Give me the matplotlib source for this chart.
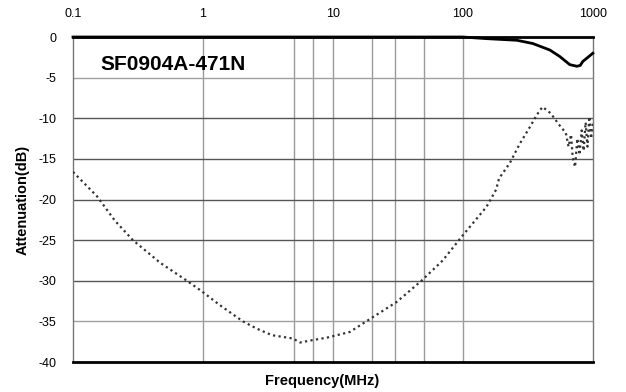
import matplotlib
matplotlib.use("Agg")
import matplotlib.pyplot as plt
from matplotlib.ticker import FixedLocator, NullLocator

plt.rcParams['font.family'] = ['Liberation Sans', 'DejaVu Sans']

# Insertion loss (solid line)
solid_freq = [0.1, 1, 10, 100, 152, 260, 345, 467, 557, 665, 753, 800, 838, 900, 1000]
solid_db = [0.0, 0.0, 0.0, 0.0, -0.2, -0.4, -0.8, -1.6, -2.4, -3.4, -3.6, -3.5, -3.0, -2.6, -2.0]

# Attenuation (dotted line)
dot_freq = [0.1, 0.153, 0.21, 0.289, 0.47, 0.753, 0.98, 1.35, 2.03, 2.6, 3.4, 4.9, 5.6, 7.0, 9.0, 13.5, 20.2, 31,
            48, 70, 100, 152, 180, 190, 230, 275, 330, 370, 410, 475, 550, 620,
            650, 680, 700, 730, 760, 790, 820, 850, 880, 910, 940, 970, 1000]
dot_db = [-16.6, -19.6, -22.6, -25.0, -27.8, -30.0, -31.3, -33.0, -35.0, -35.9, -36.7, -37.1, -37.6, -37.3, -37.0, -36.3, -34.5, -32.6,
          -30.0, -27.5, -24.4, -20.9, -18.8, -17.4, -15.5, -13.1, -11.0, -9.6, -8.6, -9.4, -10.8, -11.8,
          -13.5, -12.0, -14.8, -16.0, -12.5, -14.5, -11.5, -14.0, -10.5, -13.5, -9.8, -12.5, -10.5]

x_ticks = [0.1, 1, 10, 100, 1000]
x_tick_labels = ["0.1", "1", "10", "100", "1000"]
x_grid = [1, 5, 7, 10, 20, 30, 50, 100]
y_ticks = [0, -5, -10, -15, -20, -25, -30, -35, -40]
y_tick_labels = ["0", "-5", "-10", "-15", "-20", "-25", "-30", "-35", "-40"]

fig = plt.figure(figsize=(6.26, 3.92), dpi=100)
ax = fig.add_axes([0.1166, 0.0765, 0.8304, 0.8291])

ax.set_xscale('log')
ax.set_xlim(0.1, 1000)
ax.set_ylim(-40, 0)

for g in x_grid:
    ax.axvline(g, color='#9a9a9a', lw=1.0, zorder=1)
for g in y_ticks[1:-1]:
    ax.axhline(g, color='#555555' if g != -35 and g != -5 else '#a0a0a0', lw=1.0, zorder=1)

ax.plot(dot_freq, dot_db, linestyle=(0, (1, 1.5)), color='#333333', lw=1.6, zorder=3)
ax.plot(solid_freq, solid_db, color='black', lw=2.0, zorder=4, clip_on=False)

ax.xaxis.set_major_locator(FixedLocator(x_ticks))
ax.xaxis.set_minor_locator(NullLocator())
ax.set_xticklabels(x_tick_labels)
ax.set_yticks(y_ticks)
ax.set_yticklabels(y_tick_labels)
ax.xaxis.tick_top()
ax.tick_params(axis='both', length=0, labelsize=9, colors='black')
ax.tick_params(axis='x', pad=12)
ax.tick_params(axis='y', pad=12)

for side in ['top', 'bottom']:
    ax.spines[side].set_linewidth(2.0)
    ax.spines[side].set_color('black')
for side in ['left', 'right']:
    ax.spines[side].set_linewidth(1.0)
    ax.spines[side].set_color('#777777')

ax.text(0.052, 0.945, "SF0904A-471N", transform=ax.transAxes, fontsize=15,
        fontweight='bold', ha='left', va='top', zorder=5)

ax.set_ylabel("Attenuation(dB)", fontsize=10.5, fontweight='bold', labelpad=6)
fig.text(0.515, 0.028, "Frequency(MHz)", fontsize=10.5, fontweight='bold', ha='center', va='center')

fig.savefig("out.png", dpi=100)
